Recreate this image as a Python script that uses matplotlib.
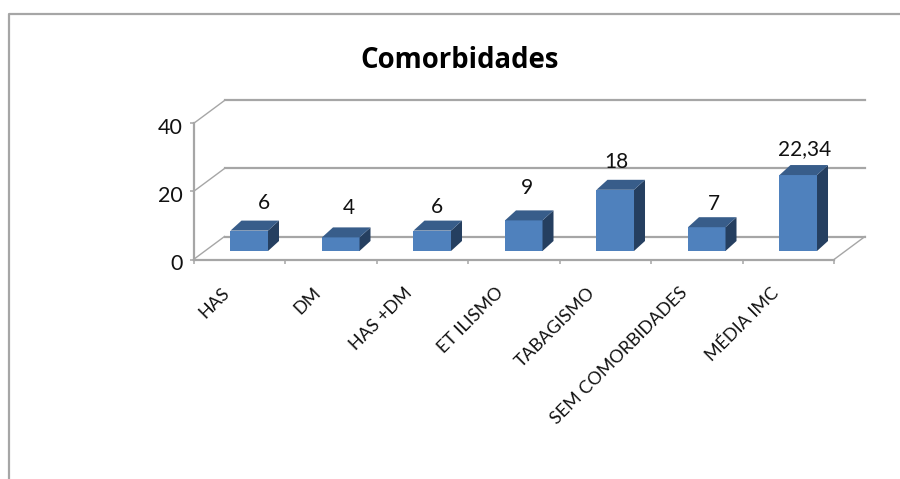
#!/usr/bin/env python

import matplotlib
matplotlib.use("Agg")
import matplotlib.pyplot as plt
import numpy as np
from matplotlib.lines import Line2D
from matplotlib.patches import Polygon
from matplotlib.transforms import Affine2D

categories = ["HAS", "DM", "HAS +DM", "ET ILISMO", "TABAGISMO", "SEM COMORBIDADES", "MÉDIA IMC"]
values = [6, 4, 6, 9, 18, 7, 22.34]
value_labels = ["6", "4", "6", "9", "18", "7", "22,34"]
y_ticks = [0, 20, 40]

# label placement, pixels from the middle of the bar's top edge
label_dx = [15, 8, 5, 3, 1, 7, 6]
label_dy = [28, 29, 24, 32, 28, 23, 26]

W, H = 900, 479
GREY = "#a6a6a6"
FACE = "#4f81bd"
TOP = "#385d8a"
SIDE = "#253f60"
WALL_DX, WALL_DY = 31, 23
BAR_DX, BAR_DY = 10, 8.5
DEPTH_DX, DEPTH_DY = 11, 10
BAR_WIDTH = 0.41

plt.rcParams["font.family"] = ["Lato", "DejaVu Sans"]

fig = plt.figure(figsize=(W / 100, H / 100), dpi=100)
ax = fig.add_axes([193.5 / W, 1 - 259.5 / H, 640.5 / W, 136 / H])
ax.set_xlim(0, len(categories))
ax.set_ylim(0, 40)
ax.patch.set_alpha(0)

for side in ["top", "right"]:
    ax.spines[side].set_visible(False)
for side in ["left", "bottom"]:
    ax.spines[side].set_color(GREY)
    ax.spines[side].set_linewidth(1.6)

ax.set_yticks(y_ticks)
ax.tick_params(axis="y", length=3, width=1.1, color=GREY, labelsize=15.5, pad=5, labelcolor="#111111")
for lab in ax.get_yticklabels():
    lab.set_transform(lab.get_transform() + Affine2D().translate(0, -3))
ax.set_xticks(np.arange(len(categories) + 1))
ax.set_xticklabels([])
ax.tick_params(axis="x", which="major", length=3, width=1.1, color=GREY)

xs = np.arange(len(categories)) + 0.5
for x, name in zip(xs, categories):
    ax.annotate(name, xy=(x, 0), xytext=(-18, -25), textcoords="offset pixels", rotation=45,
                ha="right", va="top", rotation_mode="anchor", fontsize=12.9, color="#111111",
                annotation_clip=False)

# back wall and floor lines
wall = ax.transData + Affine2D().translate(WALL_DX, WALL_DY)
for y in y_ticks:
    ax.plot([0, len(categories)], [y, y], color=GREY, lw=1.6, transform=wall, clip_on=False, zorder=1)
    p0 = ax.transData.transform((0, y))
    ax.plot([p0[0], p0[0] + WALL_DX], [p0[1], p0[1] + WALL_DY], color=GREY, lw=1.0,
            transform=None, clip_on=False, zorder=1)
p0 = ax.transData.transform((len(categories), 0))
ax.plot([p0[0], p0[0] + WALL_DX], [p0[1], p0[1] + WALL_DY], color=GREY, lw=1.0,
        transform=None, clip_on=False, zorder=1)

# bars: front face from the axis, side and top as offset parallelograms
shift = ax.transData + Affine2D().translate(BAR_DX, BAR_DY)
ax.bar(xs, values, BAR_WIDTH, color=FACE, transform=shift, clip_on=False, zorder=3)

for x, v, text, dx, dy in zip(xs, values, value_labels, label_dx, label_dy):
    (x0, y0), (x1, y1) = shift.transform([(x - BAR_WIDTH / 2, 0), (x + BAR_WIDTH / 2, v)])
    ax.add_patch(Polygon([(x1, y0), (x1 + DEPTH_DX, y0 + DEPTH_DY), (x1 + DEPTH_DX, y1 + DEPTH_DY), (x1, y1)],
                         closed=True, color=SIDE, lw=0, transform=None, zorder=3, clip_on=False))
    ax.add_patch(Polygon([(x0, y1), (x1, y1), (x1 + DEPTH_DX, y1 + DEPTH_DY), (x0 + DEPTH_DX, y1 + DEPTH_DY)],
                         closed=True, color=TOP, lw=0, transform=None, zorder=3, clip_on=False))
    ax.annotate(text, xy=((x0 + x1) / 2 + dx, y1 + dy), xycoords="figure pixels",
                ha="center", va="center", fontsize=15, color="#111111", zorder=4)

fig.text(460 / W, 1 - 61 / H, "Comorbidades", ha="center", va="center", fontsize=19.8,
         fontweight="bold", color="black", family=["Open Sans", "DejaVu Sans"])

# frame of the original chart, open to the right and below
fig.add_artist(Line2D([9 / W, 9 / W, 1], [0, 1 - 14 / H, 1 - 14 / H], color=GREY, lw=1.6))

fig.savefig("out.png", dpi=100)
